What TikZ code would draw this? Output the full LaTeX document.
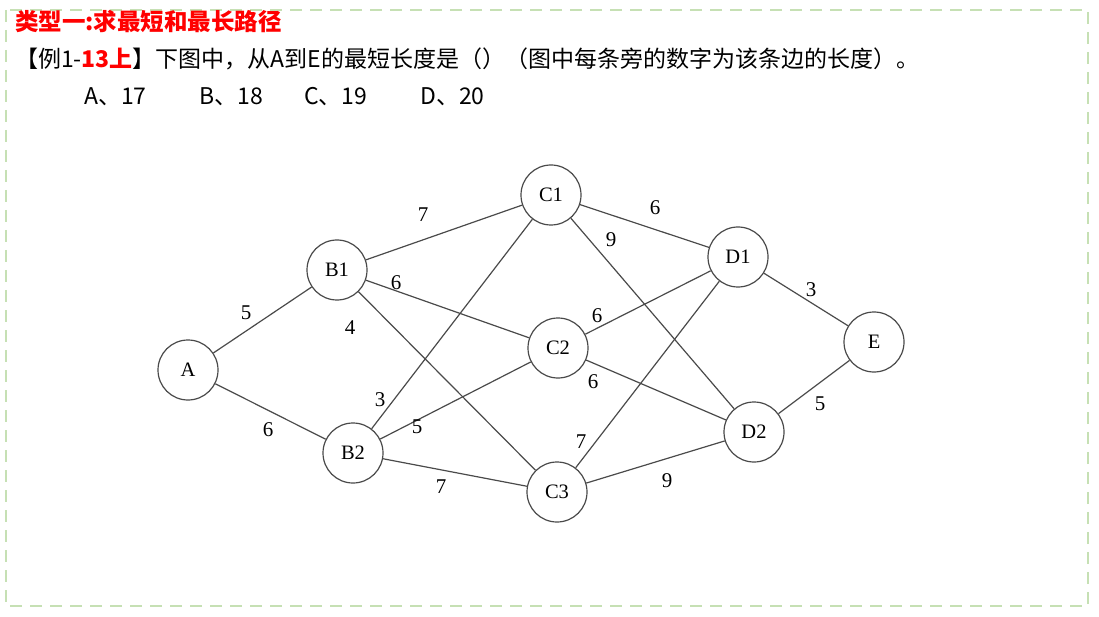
\documentclass[tikz,border=0pt]{standalone}
\usepackage{fontspec}
\newfontfamily\cjk{Noto Sans CJK SC}
\newfontfamily\serifnum{Liberation Serif}
\definecolor{framegreen}{HTML}{C6E0B4}
\definecolor{linegray}{HTML}{4A4A4A}
\begin{document}
\begin{tikzpicture}[x=1pt,y=-1pt,
  vtx/.style={circle,draw=linegray,line width=1.2pt,minimum size=60pt,inner sep=0pt,font=\serifnum\fontsize{20.5}{20.5}\selectfont},
  edge/.style={draw=linegray,line width=1.2pt},
  lbl/.style={font=\serifnum\fontsize{21}{21}\selectfont,inner sep=0pt},
  txt/.style={anchor=base west,inner sep=0pt,font=\cjk\fontsize{23}{23}\selectfont}]
\useasboundingbox (0,0) rectangle (1099,617);
\draw[framegreen,line width=2.5pt,dash pattern=on 12pt off 8pt] (6,10) rectangle (1088,606);
% texts
\node[txt,text=red,font=\cjk\bfseries\fontsize{23.5}{23.5}\selectfont] (title) at (15,31) {类型一:求最短和最长路径};
\node[txt] (q) at (15,68) {【例1-\textcolor{red}{\bfseries 13上}】下图中，从A到E的最短长度是（）（图中每条旁的数字为该条边的长度）。};
\node[txt] (oa) at (84,105) {A、17};
\node[txt] (ob) at (199,105) {B、18};
\node[txt] (oc) at (304,105) {C、19};
\node[txt] (od) at (420,105) {D、20};
% vertices
\node[vtx] (A) at (188,370) {A};
\node[vtx] (B1) at (337,270) {B1};
\node[vtx] (B2) at (353,453) {B2};
\node[vtx] (C1) at (551,195) {C1};
\node[vtx] (C2) at (558,348) {C2};
\node[vtx] (C3) at (557,492) {C3};
\node[vtx] (D1) at (738,257) {D1};
\node[vtx] (D2) at (754,432) {D2};
\node[vtx] (E) at (874,342) {E};
% edges
\draw[edge] (A) -- (B1);
\draw[edge] (A) -- (B2);
\draw[edge] (B1) -- (C1);
\draw[edge] (B1) -- (C2);
\draw[edge] (B1) -- (C3);
\draw[edge] (B2) -- (C1);
\draw[edge] (B2) -- (C2);
\draw[edge] (B2) -- (C3);
\draw[edge] (C1) -- (D1);
\draw[edge] (C1) -- (D2);
\draw[edge] (C2) -- (D1);
\draw[edge] (C2) -- (D2);
\draw[edge] (C3) -- (D1);
\draw[edge] (C3) -- (D2);
\draw[edge] (D1) -- (E);
\draw[edge] (D2) -- (E);
% labels
\node[lbl] (lAB1) at (246,313) {5};
\node[lbl] (lAB2) at (268,430) {6};
\node[lbl] (lB1C1) at (423,215) {7};
\node[lbl] (lB1C2) at (396,283) {6};
\node[lbl] (lB1C3) at (350,328) {4};
\node[lbl] (lB2C1) at (380,400) {3};
\node[lbl] (lB2C2) at (417,427) {5};
\node[lbl] (lB2C3) at (441,487) {7};
\node[lbl] (lC1D1) at (655,208) {6};
\node[lbl] (lC1D2) at (611,240) {9};
\node[lbl] (lC2D1) at (597,316) {6};
\node[lbl] (lC2D2) at (593,382) {6};
\node[lbl] (lC3D1) at (581,442) {7};
\node[lbl] (lC3D2) at (667,481) {9};
\node[lbl] (lD1E) at (811,290) {3};
\node[lbl] (lD2E) at (820,404) {5};
\end{tikzpicture}
\end{document}
